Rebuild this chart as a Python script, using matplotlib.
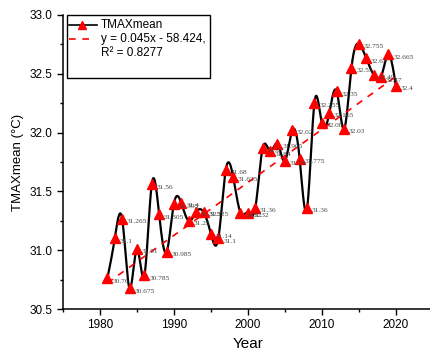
import numpy as np
import matplotlib
matplotlib.use('Agg')
import matplotlib.pyplot as plt
from matplotlib.patches import Rectangle
from matplotlib.ticker import MultipleLocator, FormatStrFormatter

# 数据：年份和年均最高气温
years = list(range(1981, 2021))
tmax = [30.76, 31.1, 31.265, 30.675, 31.01, 30.785, 31.56, 31.305, 30.985, 31.395,
        31.4, 31.25, 31.325, 31.325, 31.14, 31.1, 31.68, 31.625, 31.32, 31.32,
        31.36, 31.87, 31.84, 31.905, 31.76, 32.02, 31.775, 31.36, 32.255, 32.08,
        32.165, 32.35, 32.03, 32.55, 32.755, 32.63, 32.49, 32.47, 32.665, 32.4]
slope = 0.045
intercept = -58.424
r2 = 0.8277

plt.rcParams['font.family'] = ['Liberation Sans', 'DejaVu Sans']


def natural_spline(x, y, n=2000):
    # 自然三次样条，模仿Origin的平滑曲线
    x = np.asarray(x, float)
    y = np.asarray(y, float)
    m = len(x)
    h = np.diff(x)
    A = np.zeros((m, m))
    b = np.zeros(m)
    A[0, 0] = 1
    A[-1, -1] = 1
    for i in range(1, m - 1):
        A[i, i - 1] = h[i - 1]
        A[i, i] = 2 * (h[i - 1] + h[i])
        A[i, i + 1] = h[i]
        b[i] = 3 * ((y[i + 1] - y[i]) / h[i] - (y[i] - y[i - 1]) / h[i - 1])
    c = np.linalg.solve(A, b)
    xs = np.linspace(x[0], x[-1], n)
    idx = np.clip(np.searchsorted(x, xs) - 1, 0, m - 2)
    dx = xs - x[idx]
    bb = (y[1:] - y[:-1]) / h - h * (2 * c[:-1] + c[1:]) / 3
    dd = (c[1:] - c[:-1]) / (3 * h)
    ys = y[idx] + bb[idx] * dx + c[idx] * dx ** 2 + dd[idx] * dx ** 3
    return xs, ys


fig = plt.figure(figsize=(4.3, 3.56), dpi=100)
ax = fig.add_axes([0.1465, 0.132, 0.86, 0.826])

xs, ys = natural_spline(years, tmax)
ax.plot(xs, ys, color='black', lw=1.6, zorder=2)
ax.plot(years, tmax, linestyle='none', marker='^', color='red', markersize=6.5, zorder=3)

fit_x = np.array([years[0], years[-1]])
ax.plot(fit_x, slope * fit_x + intercept, color='red', lw=1.2, ls=(0, (4, 4)), zorder=2.5)

for x, y in zip(years, tmax):
    ax.annotate(f'{y:g}', (x, y), xytext=(3.5, -2), textcoords='offset points',
                fontsize=5.3, family='Liberation Serif', color='#444444', va='center')

ax.set_xlim(1975, 2025)
ax.set_ylim(30.5, 33.0)
ax.xaxis.set_major_locator(MultipleLocator(10))
ax.xaxis.set_minor_locator(MultipleLocator(5))
ax.yaxis.set_major_locator(MultipleLocator(0.5))
ax.yaxis.set_minor_locator(MultipleLocator(0.25))
ax.yaxis.set_major_formatter(FormatStrFormatter('%.1f'))
ax.tick_params(which='major', direction='out', length=4, width=1, labelsize=8.5, colors='black')
ax.tick_params(which='minor', direction='out', length=2.5, width=1)
for s in ['top', 'right']:
    ax.spines[s].set_visible(False)
for s in ['left', 'bottom']:
    ax.spines[s].set_linewidth(1.1)

ax.set_xlabel('Year', fontsize=11)
ax.set_ylabel('TMAXmean (°C)', fontsize=9.5)

# 图例：手动画框，和原图一样
tr = ax.transAxes
ax.add_patch(Rectangle((0.011, 0.786), 0.386, 0.214, transform=tr, fill=True,
                       facecolor='white', edgecolor='black', lw=1, zorder=5, clip_on=False))
ax.plot([0.016, 0.092], [0.966, 0.966], transform=tr, color='black', lw=1.2, zorder=6, clip_on=False)
ax.plot([0.051], [0.966], transform=tr, marker='^', color='red', markersize=6, zorder=7, clip_on=False)
ax.plot([0.016, 0.08], [0.918, 0.918], transform=tr, color='red', lw=1.2, ls=(0, (4, 4)),
        zorder=6, clip_on=False)
ax.text(0.103, 0.966, 'TMAXmean', transform=tr, fontsize=8.5, va='center', zorder=7)
ax.text(0.103, 0.918, f'y = {slope}x - {abs(intercept)},', transform=tr, fontsize=8.5,
        va='center', zorder=7)
ax.text(0.103, 0.871, f'R² = {r2}', transform=tr, fontsize=8.5, va='center', zorder=7)

fig.savefig('out.png', dpi=100)
